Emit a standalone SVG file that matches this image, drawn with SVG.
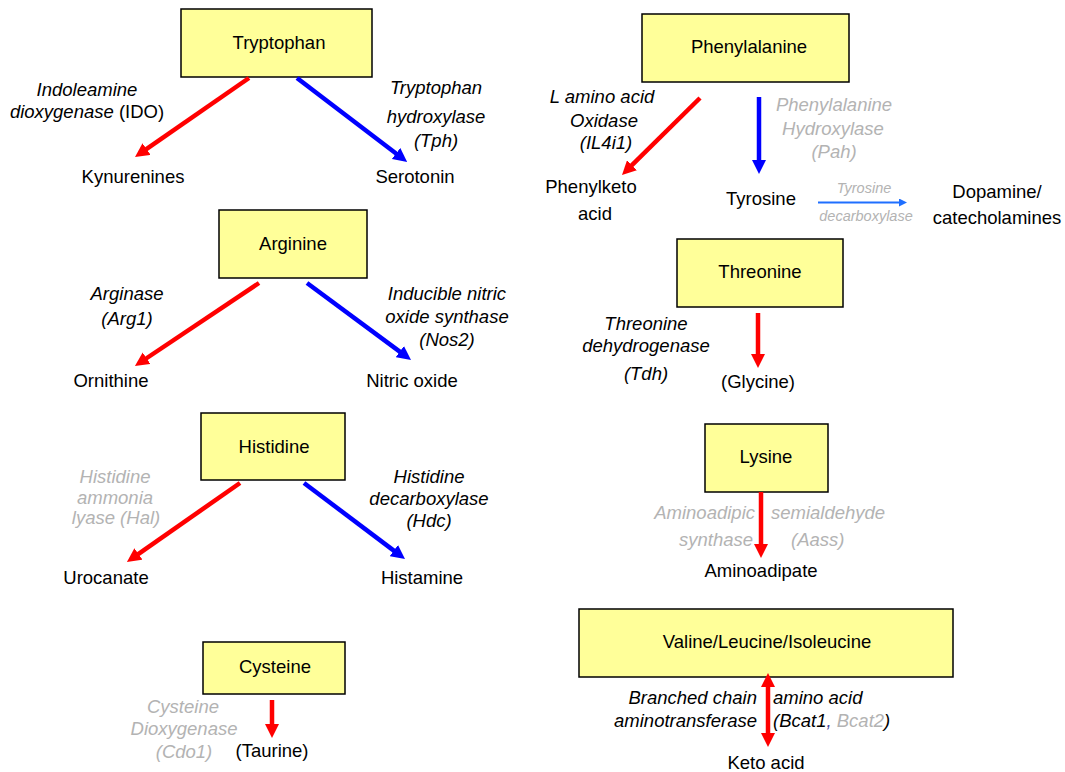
<svg xmlns="http://www.w3.org/2000/svg" width="1065" height="772" viewBox="0 0 1065 772">
<defs>
<style>
text{font-family:"Liberation Sans",Arial,sans-serif;font-size:18.5px;fill:#000;}
.box{fill:#ffff99;stroke:#000;stroke-width:1.5;}
.c{text-anchor:middle;}
.e{text-anchor:end;}
.i{font-style:italic;}
.g{fill:#b3b3b3;}
.sm{font-size:14.5px;}
.red{stroke:#ff0000;stroke-width:4.5;fill:none;}
.blue{stroke:#0000ff;stroke-width:4.5;fill:none;}
.lb{stroke:#1f6fff;stroke-width:2;fill:none;}
</style>
<marker id="hr" markerUnits="userSpaceOnUse" markerWidth="14" markerHeight="14" viewBox="0 0 14 14" refX="5" refY="7" orient="auto-start-reverse"><path d="M0,0 L14,7 L0,14 z" fill="#ff0000"/></marker>
<marker id="hb" markerUnits="userSpaceOnUse" markerWidth="14" markerHeight="14" viewBox="0 0 14 14" refX="5" refY="7" orient="auto"><path d="M0,0 L14,7 L0,14 z" fill="#0000ff"/></marker>
<marker id="hl" markerUnits="userSpaceOnUse" markerWidth="8" markerHeight="8" viewBox="0 0 8 8" refX="3" refY="4" orient="auto"><path d="M0,0 L8,4 L0,8 z" fill="#1f6fff"/></marker>
</defs>
<rect width="1065" height="772" fill="#fff"/>

<g id="tryptophan"><rect class="box" x="181" y="9" width="191" height="68"/><text class="c" x="279" y="49">Tryptophan</text></g>
<g id="kynurenines"><text class="c" x="133" y="183">Kynurenines</text></g>
<g id="serotonin"><text class="c" x="415" y="183">Serotonin</text></g>
<g id="ido-label"><text class="c i" x="87" y="96">Indoleamine</text><text class="c" x="87" y="118"><tspan class="i">dioxygenase</tspan> (IDO)</text></g>
<g id="tph-label"><text class="c i" x="436" y="94">Tryptophan</text><text class="c i" x="436" y="123">hydroxylase</text><text class="c i" x="436" y="147">(Tph)</text></g>

<g id="arginine"><rect class="box" x="219" y="210" width="148" height="68"/><text class="c" x="293" y="250">Arginine</text></g>
<g id="ornithine"><text class="c" x="111" y="387">Ornithine</text></g>
<g id="nitric-oxide"><text class="c" x="412" y="387">Nitric oxide</text></g>
<g id="arg1-label"><text class="c i" x="127" y="300">Arginase</text><text class="c i" x="127" y="325">(Arg1)</text></g>
<g id="nos2-label"><text class="c i" x="447" y="300">Inducible nitric</text><text class="c i" x="447" y="323">oxide synthase</text><text class="c i" x="447" y="346">(Nos2)</text></g>

<g id="histidine"><rect class="box" x="201" y="413" width="144" height="67"/><text class="c" x="274" y="453">Histidine</text></g>
<g id="urocanate"><text class="c" x="106" y="584">Urocanate</text></g>
<g id="histamine"><text class="c" x="422" y="584">Histamine</text></g>
<g id="hal-label"><text class="c i g" x="115" y="483">Histidine</text><text class="c i g" x="115" y="504">ammonia</text><text class="c i g" x="116" y="524">lyase (Hal)</text></g>
<g id="hdc-label"><text class="c i" x="429" y="483">Histidine</text><text class="c i" x="429" y="505">decarboxylase</text><text class="c i" x="429" y="527">(Hdc)</text></g>

<g id="cysteine"><rect class="box" x="203" y="642" width="142" height="52"/><text class="c" x="275" y="673">Cysteine</text></g>
<g id="taurine"><text class="c" x="272" y="757">(Taurine)</text></g>
<g id="cdo1-label"><text class="c i g" x="183" y="713">Cysteine</text><text class="c i g" x="184" y="735">Dioxygenase</text><text class="c i g" x="184" y="758">(Cdo1)</text></g>

<g id="phenylalanine"><rect class="box" x="642" y="14" width="207" height="68"/><text class="c" x="749" y="53">Phenylalanine</text></g>
<g id="phenylketo"><text class="c" x="591" y="193">Phenylketo</text><text class="c" x="595" y="220">acid</text></g>
<g id="tyrosine"><text class="c" x="761" y="205">Tyrosine</text></g>
<g id="dopamine"><text class="c" x="997" y="198">Dopamine/</text><text class="c" x="997" y="224">catecholamines</text></g>
<g id="il4i1-label"><text class="c i" x="602" y="103">L amino acid</text><text class="c i" x="604" y="127">Oxidase</text><text class="c i" x="606" y="149">(IL4i1)</text></g>
<g id="pah-label"><text class="c i g" x="834" y="111">Phenylalanine</text><text class="c i g" x="833" y="135">Hydroxylase</text><text class="c i g" x="834" y="158">(Pah)</text></g>
<g id="tyrdc-label"><text class="c i g sm" x="864" y="193">Tyrosine</text><text class="c i g sm" x="866" y="221">decarboxylase</text></g>

<g id="threonine"><rect class="box" x="677" y="239" width="166" height="68"/><text class="c" x="760" y="278">Threonine</text></g>
<g id="glycine"><text class="c" x="758" y="388">(Glycine)</text></g>
<g id="tdh-label"><text class="c i" x="646" y="330">Threonine</text><text class="c i" x="646" y="352">dehydrogenase</text><text class="c i" x="646" y="380">(Tdh)</text></g>

<g id="lysine"><rect class="box" x="705" y="424" width="123" height="68"/><text class="c" x="766" y="463">Lysine</text></g>
<g id="aminoadipate"><text class="c" x="761" y="577">Aminoadipate</text></g>
<g id="aass-label"><text class="e i g" x="755" y="519">Aminoadipic</text><text class="i g" x="771" y="519">semialdehyde</text><text class="e i g" x="753" y="546">synthase</text><text class="i g" x="791" y="546">(Aass)</text></g>

<g id="bcaa"><rect class="box" x="579" y="609" width="374" height="68"/><text class="c" x="767" y="648">Valine/Leucine/Isoleucine</text></g>
<g id="keto-acid"><text class="c" x="766" y="769">Keto acid</text></g>
<g id="bcat-label"><text class="e i" x="757" y="704">Branched chain</text><text class="i" x="773" y="704">amino acid</text><text class="e i" x="757" y="727">aminotransferase</text><text class="i" x="773" y="727">(Bcat1<tspan fill="#4a4aa0">,</tspan> <tspan class="g">Bcat2</tspan>)</text></g>

<g id="connectors">
<line class="red" x1="249" y1="78" x2="142.4" y2="151.9" marker-end="url(#hr)"/>
<line class="blue" x1="297" y1="78" x2="400" y2="156.5" marker-end="url(#hb)"/>
<line class="red" x1="259" y1="283" x2="142.4" y2="361" marker-end="url(#hr)"/>
<line class="blue" x1="307" y1="283" x2="403.8" y2="354.6" marker-end="url(#hb)"/>
<line class="red" x1="240" y1="483" x2="134.3" y2="556.8" marker-end="url(#hr)"/>
<line class="blue" x1="304" y1="483" x2="397.8" y2="553.6" marker-end="url(#hb)"/>
<line class="red" x1="272" y1="700" x2="272" y2="729" marker-end="url(#hr)"/>
<line class="red" x1="700" y1="98" x2="628.4" y2="168.7" marker-end="url(#hr)"/>
<line class="blue" x1="759" y1="97" x2="759" y2="165" marker-end="url(#hb)"/>
<line class="lb" x1="818" y1="202.5" x2="902" y2="202.5" marker-end="url(#hl)"/>
<line class="red" x1="758" y1="313" x2="758" y2="359" marker-end="url(#hr)"/>
<line class="red" x1="761" y1="492" x2="761" y2="549" marker-end="url(#hr)"/>
<line class="red" x1="768" y1="682" x2="768" y2="738" marker-start="url(#hr)" marker-end="url(#hr)"/>
</g>
</svg>
